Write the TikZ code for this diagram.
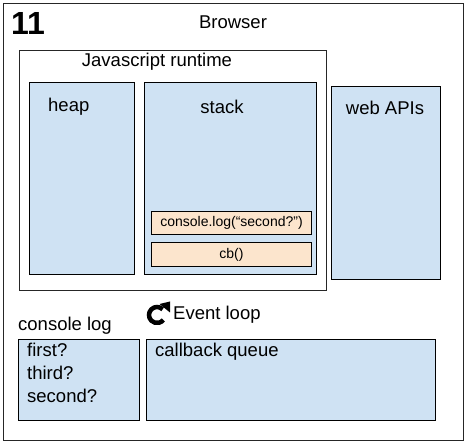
\documentclass[tikz,border=0pt]{standalone}
\usepackage{fontspec}
\setmainfont{Liberation Sans}
\usepackage{xcolor}
\definecolor{jsblue}{HTML}{CFE2F3}
\definecolor{jsorange}{HTML}{FCE5CD}
\usetikzlibrary{arrows.meta,positioning}
\tikzset{
  jsouter/.style={draw=black!85,line width=1pt,anchor=north west,inner sep=0pt},
  jspanel/.style={draw,fill=jsblue,line width=1pt,anchor=north west,inner sep=0pt},
  jsframe/.style={draw,fill=jsorange,line width=1pt,anchor=north west,inner sep=0pt,font=\fontsize{14}{15}\selectfont},
  jstext/.style={font=\fontsize{18.5}{23}\selectfont,inner sep=0pt,align=left},
}
\begin{document}
\begin{tikzpicture}[x=1pt,y=-1pt]
\useasboundingbox (0,0) rectangle (467,443);
 % browser frame
\node[jsouter,minimum width=460pt,minimum height=437pt] (browser) at (3,3) {};
\node[jstext,font=\bfseries\fontsize{32}{34}\selectfont] (num) at (28,23) {11};
\node[jstext] (browserlbl) at (233,22) {Browser};
 % javascript runtime
\node[jsouter,minimum width=307pt,minimum height=240pt] (runtime) at (19,50) {};
\node[jstext] (runtimelbl) at (157,62) {Javascript runtime};
\node[jspanel,minimum width=105pt,minimum height=192pt] (heap) at (29,82) {};
\node[jstext,anchor=west] (heaplbl) at (48,107) {heap};
\node[jspanel,minimum width=172pt,minimum height=192pt] (stack) at (144,82) {};
\node[jstext] (stacklbl) at (222,107) {stack};
\node[jsframe,minimum width=160pt,minimum height=23pt] (frlog) at (151,211) {console.log(“second?”)};
\node[jsframe,minimum width=160pt,minimum height=24pt] (frcb) at (151,242) {cb()};
 % web APIs
\node[jspanel,minimum width=109pt,minimum height=193pt] (webapi) at (331,86) {};
\node[jstext] (webapilbl) at (385,108) {web APIs};
 % event loop icon
\coordinate (loopc) at (157,315);
\begin{scope}[shift={(loopc)},y=1pt]
\draw[line width=4.5pt] (45:8) arc[start angle=45,end angle=322,radius=8];
\fill (2.5,11) -- (13,13.5) -- (13,2.5) -- cycle;
\end{scope}
\node[jstext,anchor=west] (looplbl) at (173,315) {Event loop};
 % console log and callback queue
\node[jstext,anchor=west] (conlbl) at (18,326) {console log};
\node[jspanel,minimum width=121pt,minimum height=81pt] (conbox) at (18,339) {};
\node[jstext,anchor=north west] (conout) at (27,343) {first?\\third?\\second?};
\node[jspanel,minimum width=289pt,minimum height=81pt] (queue) at (146,339) {};
\node[jstext,anchor=west] (queuelbl) at (155,352) {callback queue};
\end{tikzpicture}
\end{document}
